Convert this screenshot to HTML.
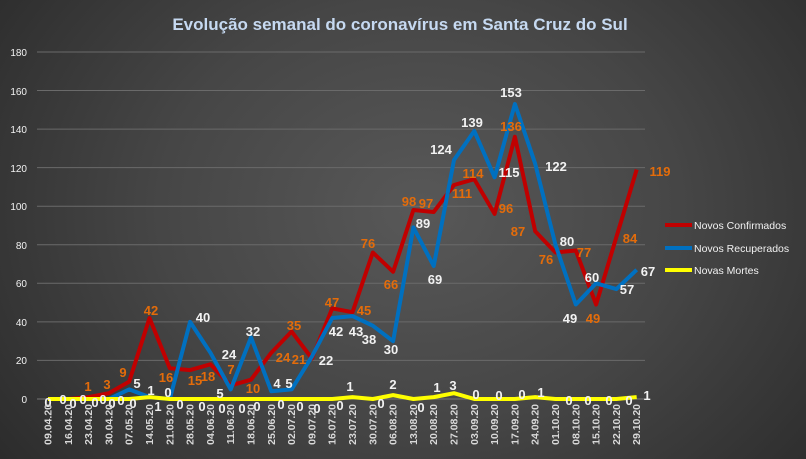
<!DOCTYPE html>
<html><head><meta charset="utf-8"><style>
html,body{margin:0;padding:0}
body{width:806px;height:459px;overflow:hidden;background:radial-gradient(ellipse 520px 420px at 420px 210px,#585858 0%,#464646 50%,#2c2c2c 100%);font-family:"Liberation Sans",sans-serif}
svg{position:absolute;left:0;top:0}
.o{fill:#e46c0a;font-weight:bold;font-size:13px;text-anchor:middle}
.w{fill:#f2f2f2;font-weight:bold;font-size:13px;text-anchor:middle}
.ax{fill:#f2f2f2;font-size:10px;text-anchor:end}
.xl{fill:#d9d9d9;font-size:10.5px;font-weight:bold;text-anchor:end}
.lg{fill:#f2f2f2;font-size:10.5px}
</style></head><body>
<svg width="806" height="459" viewBox="0 0 806 459">
<text x="400" y="30" text-anchor="middle" fill="#c6d9f1" font-weight="bold" font-size="17">Evolução semanal do coronavírus  em Santa Cruz do Sul</text>
<g stroke="#6a6a6a" stroke-width="1">
<line x1="37" y1="360.4" x2="645" y2="360.4"/><line x1="37" y1="321.9" x2="645" y2="321.9"/><line x1="37" y1="283.3" x2="645" y2="283.3"/><line x1="37" y1="244.8" x2="645" y2="244.8"/><line x1="37" y1="206.2" x2="645" y2="206.2"/><line x1="37" y1="167.6" x2="645" y2="167.6"/><line x1="37" y1="129.1" x2="645" y2="129.1"/><line x1="37" y1="90.5" x2="645" y2="90.5"/><line x1="37" y1="52" x2="645" y2="52"/>
</g>
<g>
<text class="ax" x="27" y="403">0</text>
<text class="ax" x="27" y="364">20</text>
<text class="ax" x="27" y="326">40</text>
<text class="ax" x="27" y="287">60</text>
<text class="ax" x="27" y="249">80</text>
<text class="ax" x="27" y="210">100</text>
<text class="ax" x="27" y="172">120</text>
<text class="ax" x="27" y="133">140</text>
<text class="ax" x="27" y="95">160</text>
<text class="ax" x="27" y="56">180</text>
</g>
<line x1="37" y1="399" x2="645" y2="399" stroke="#777" stroke-width="1"/>
<polyline fill="none" stroke="#c00000" stroke-width="4" stroke-linejoin="round" points="48,399 68.3,399 88.6,397.1 108.9,393.2 129.2,381.6 149.5,318 169.8,368.2 190.1,370.1 210.4,364.3 230.7,385.5 251,379.7 271.3,352.7 291.6,331.5 311.9,358.5 332.2,308.4 352.5,312.2 372.8,252.5 393.1,271.8 413.4,210 433.7,212 454,185 474.3,179.2 494.6,213.9 514.9,136.8 535.2,231.3 555.5,252.5 575.8,250.5 596.1,304.5 616.4,237 636.7,169.6"/>
<polyline fill="none" stroke="#0070c0" stroke-width="4" stroke-linejoin="round" points="48,399 68.3,399 88.6,399 108.9,399 129.2,389.4 149.5,397.1 169.8,399 190.1,321.9 210.4,352.7 230.7,389.4 251,337.3 271.3,391.3 291.6,389.4 311.9,356.6 332.2,318 352.5,316.1 372.8,325.7 393.1,341.2 413.4,227.4 433.7,266 454,160 474.3,131 494.6,177.3 514.9,104 535.2,163.8 555.5,244.8 575.8,304.5 596.1,283.3 616.4,289.1 636.7,269.8"/>
<polyline fill="none" stroke="#ffff00" stroke-width="4" stroke-linejoin="round" points="48,399 68.3,399 88.6,399 108.9,399 129.2,399 149.5,397.1 169.8,399 190.1,399 210.4,399 230.7,399 251,399 271.3,399 291.6,399 311.9,399 332.2,399 352.5,397.1 372.8,399 393.1,395.1 413.4,399 433.7,397.1 454,393.2 474.3,399 494.6,399 514.9,399 535.2,397.1 555.5,399 575.8,399 596.1,399 616.4,399 636.7,397.1"/>
<g class="o">
<text x="88" y="391">1</text><text x="107" y="389">3</text><text x="123" y="377">9</text><text x="151" y="315">42</text><text x="166" y="382">16</text><text x="195" y="385">15</text><text x="208" y="381">18</text><text x="231" y="374">7</text><text x="253" y="393">10</text><text x="283" y="362">24</text><text x="294" y="330">35</text><text x="299" y="364">21</text><text x="332" y="307">47</text><text x="364" y="315">45</text><text x="368" y="248">76</text><text x="391" y="289">66</text><text x="409" y="206">98</text><text x="426" y="208">97</text><text x="462" y="198">111</text><text x="473" y="178">114</text><text x="506" y="213">96</text><text x="511" y="131">136</text><text x="518" y="236">87</text><text x="546" y="264">76</text><text x="584" y="257">77</text><text x="593" y="323">49</text><text x="630" y="243">84</text><text x="660" y="176">119</text>
</g>
<g class="w">
<text x="137" y="388">5</text><text x="151" y="395">1</text><text x="168" y="397">0</text><text x="203" y="322">40</text><text x="229" y="359">24</text><text x="220" y="398">5</text><text x="253" y="336">32</text><text x="277" y="388">4</text><text x="289" y="388">5</text><text x="326" y="365">22</text><text x="336" y="336">42</text><text x="356" y="336">43</text><text x="369" y="344">38</text><text x="391" y="354">30</text><text x="423" y="228">89</text><text x="435" y="284">69</text><text x="441" y="154">124</text><text x="472" y="127">139</text><text x="509" y="177">115</text><text x="511" y="97">153</text><text x="556" y="171">122</text><text x="567" y="246">80</text><text x="570" y="323">49</text><text x="592" y="282">60</text><text x="627" y="294">57</text><text x="648" y="276">67</text>
<text x="48" y="407">0</text><text x="63" y="404">0</text><text x="73" y="408">0</text><text x="83" y="404">0</text><text x="95" y="407">0</text><text x="103" y="404">0</text><text x="112" y="408">0</text><text x="121" y="405">0</text><text x="133" y="408">0</text><text x="158" y="411">1</text><text x="180" y="409">0</text><text x="202" y="411">0</text><text x="222" y="413">0</text><text x="242" y="413">0</text><text x="257" y="411">0</text><text x="281" y="409">0</text><text x="300" y="411">0</text><text x="317" y="413">0</text><text x="340" y="410">0</text><text x="350" y="391">1</text><text x="381" y="408">0</text><text x="393" y="389">2</text><text x="421" y="412">0</text><text x="437" y="392">1</text><text x="453" y="390">3</text><text x="476" y="399">0</text><text x="499" y="400">0</text><text x="522" y="399">0</text><text x="541" y="397">1</text><text x="569" y="405">0</text><text x="588" y="405">0</text><text x="609" y="405">0</text><text x="629" y="405">0</text><text x="647" y="400">1</text>
</g>
<g class="xl">
<text transform="translate(51.5,404) rotate(-90)">09.04.20</text><text transform="translate(71.8,404) rotate(-90)">16.04.20</text><text transform="translate(92.1,404) rotate(-90)">23.04.20</text><text transform="translate(112.4,404) rotate(-90)">30.04.20</text><text transform="translate(132.7,404) rotate(-90)">07.05.20</text><text transform="translate(153,404) rotate(-90)">14.05.20</text><text transform="translate(173.3,404) rotate(-90)">21.05.20</text><text transform="translate(193.6,404) rotate(-90)">28.05.20</text><text transform="translate(213.9,404) rotate(-90)">04.06.20</text><text transform="translate(234.2,404) rotate(-90)">11.06.20</text><text transform="translate(254.5,404) rotate(-90)">18.06.20</text><text transform="translate(274.8,404) rotate(-90)">25.06.20</text><text transform="translate(295.1,404) rotate(-90)">02.07.20</text><text transform="translate(315.4,404) rotate(-90)">09.07.20</text><text transform="translate(335.7,404) rotate(-90)">16.07.20</text><text transform="translate(356,404) rotate(-90)">23.07.20</text><text transform="translate(376.3,404) rotate(-90)">30.07.20</text><text transform="translate(396.6,404) rotate(-90)">06.08.20</text><text transform="translate(416.9,404) rotate(-90)">13.08.20</text><text transform="translate(437.2,404) rotate(-90)">20.08.20</text><text transform="translate(457.5,404) rotate(-90)">27.08.20</text><text transform="translate(477.8,404) rotate(-90)">03.09.20</text><text transform="translate(498.1,404) rotate(-90)">10.09.20</text><text transform="translate(518.4,404) rotate(-90)">17.09.20</text><text transform="translate(538.7,404) rotate(-90)">24.09.20</text><text transform="translate(559,404) rotate(-90)">01.10.20</text><text transform="translate(579.3,404) rotate(-90)">08.10.20</text><text transform="translate(599.6,404) rotate(-90)">15.10.20</text><text transform="translate(619.9,404) rotate(-90)">22.10.20</text><text transform="translate(640.2,404) rotate(-90)">29.10.20</text>
</g>
<line x1="665" y1="225" x2="692" y2="225" stroke="#c00000" stroke-width="4"/>
<line x1="665" y1="248" x2="692" y2="248" stroke="#0070c0" stroke-width="4"/>
<line x1="665" y1="270" x2="692" y2="270" stroke="#ffff00" stroke-width="4"/>
<text class="lg" x="694" y="229">Novos Confirmados</text>
<text class="lg" x="694" y="252">Novos Recuperados</text>
<text class="lg" x="694" y="274">Novas Mortes</text>
</svg>
</body></html>
